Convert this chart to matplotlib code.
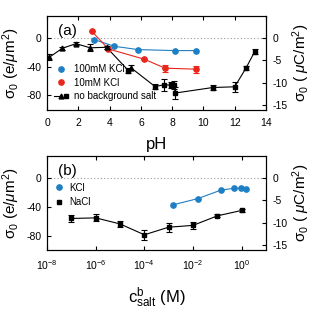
import numpy as np
import matplotlib
matplotlib.use("Agg")
import matplotlib.pyplot as plt
from matplotlib.lines import Line2D
from matplotlib.legend_handler import HandlerTuple

plt.rcParams['font.family'] = ['Liberation Sans', 'DejaVu Sans']
plt.rcParams['mathtext.fontset'] = 'custom'
plt.rcParams['mathtext.rm'] = 'Liberation Sans'
plt.rcParams['mathtext.it'] = 'Liberation Sans:italic'
plt.rcParams['mathtext.bf'] = 'Liberation Sans:bold'
plt.rcParams['axes.unicode_minus'] = False

# conversion e/um^2 -> uC/m^2
E_TO_UC = 0.1602

# panel (a) data, sigma in e/um^2
ph_tri = [0.15, 0.98, 1.85, 2.75, 3.8, 5.35]
sig_tri = [-27, -14.6, -8.3, -14, -13.3, -41.4]
err_tri = [4, 2, 2, 5, 2, 3]

ph_sq = [5.2, 6.9, 7.5, 7.9, 8.14, 8.18, 10.6, 12.0, 12.72, 13.28]
sig_sq = [-45.5, -67.6, -65.2, -65.7, -65.7, -76.7, -69, -68, -42.2, -19.3]
err_sq = [3, 3, 8, 4, 6, 8, 4, 7, 3, 3]

ph_100 = [3.03, 4.3, 5.82, 8.2, 9.5]
sig_100 = [-2.8, -11.9, -16.5, -17.9, -17.9]

ph_10 = [2.86, 3.92, 6.22, 7.54, 9.5]
sig_10 = [8.8, -15.6, -29.8, -42.2, -43.6]
err_10 = [0, 0, 0, 5, 5]

# panel (b) data
c_nacl = [1e-7, 1e-6, 1e-5, 1e-4, 1e-3, 1e-2, 1e-1, 1.0]
sig_nacl = [-56.4, -55.6, -64, -79, -68.5, -66, -52.8, -45.3]
err_nacl = [5, 5, 4, 7, 6, 5, 2, 2]

c_kcl = [1.5e-3, 1.55e-2, 0.145, 0.48, 0.96, 1.5]
sig_kcl = [-37.5, -29, -17, -14.7, -14.7, -15.3]

BLUE = '#1f7fc4'
RED = '#e8261c'

fig = plt.figure(figsize=(3.14, 3.14), dpi=100)
ax1 = fig.add_axes([0.150, 0.650, 0.697, 0.299])
ax2 = fig.add_axes([0.150, 0.204, 0.697, 0.299])

ylim = (-100, 30)
tick_fs = 7.5
lab_fs = 11
left_label = 'σ$_0$ (e/$\\mu$m$^2$)'
right_label = 'σ$_0$ ( $\\mu$C/m$^2$)'

# ---- panel (a)
ax1.axhline(0, color='#999999', lw=0.8, ls=(0, (1, 2)), zorder=0)
ph_all = ph_tri + ph_sq
sig_all = sig_tri + sig_sq
order = np.argsort(ph_all)
ax1.plot(np.array(ph_all)[order], np.array(sig_all)[order], color='black', lw=0.8, zorder=2)
ax1.errorbar(ph_tri, sig_tri, yerr=err_tri, fmt='^', color='black', ms=3.5,
             elinewidth=0.8, capsize=2, capthick=0.8, zorder=3)
ax1.errorbar(ph_sq, sig_sq, yerr=err_sq, fmt='s', color='black', ms=3.5,
             elinewidth=0.8, capsize=2, capthick=0.8, zorder=3)
ax1.plot(ph_100, sig_100, '-o', color=BLUE, ms=3.8, lw=0.8, zorder=2)
ax1.errorbar(ph_10, sig_10, yerr=err_10, fmt='-o', color=RED, ms=3.8, lw=0.8,
             elinewidth=0.8, capsize=2, capthick=0.8, zorder=2)

ax1.set_xlim(0, 14)
ax1.set_ylim(*ylim)
ax1.set_xticks([0, 2, 4, 6, 8, 10, 12, 14])
ax1.set_yticks([0, -40, -80])
ax1.set_xlabel('pH', fontsize=lab_fs + 1, labelpad=6)
ax1.set_ylabel(left_label, fontsize=lab_fs, labelpad=3)
ax1.text(0.05, 0.92, '(a)', transform=ax1.transAxes, fontsize=lab_fs, va='top', ha='left')

h_blue = Line2D([], [], marker='o', color=BLUE, ls='none', ms=3.8)
h_red = Line2D([], [], marker='o', color=RED, ls='none', ms=3.8)
h_line = Line2D([], [], color='black', lw=0.8)
h_tri = Line2D([], [], marker='^', color='black', ls='none', ms=3.5)
h_sq = Line2D([], [], marker='s', color='black', ls='none', ms=3.5)
ax1.legend([h_blue, h_red, (h_line, h_tri, h_sq)],
           ['100mM KCl', '10mM KCl', 'no background salt'],
           handler_map={tuple: HandlerTuple(ndivide=None, pad=0)},
           loc='lower left', bbox_to_anchor=(0.0, 0.02), frameon=False,
           fontsize=7, handlelength=1.5, handletextpad=0.6, labelspacing=0.35,
           borderaxespad=0.3)

# ---- panel (b)
ax2.axhline(0, color='#999999', lw=0.8, ls=(0, (1, 2)), zorder=0)
ax2.errorbar(c_nacl, sig_nacl, yerr=err_nacl, fmt='-s', color='black', ms=3.5, lw=0.8,
             elinewidth=0.8, capsize=2, capthick=0.8, zorder=3, label='NaCl')
ax2.plot(c_kcl, sig_kcl, '-o', color=BLUE, ms=3.8, lw=0.8, zorder=2, label='KCl')
ax2.set_xscale('log')
ax2.set_xlim(1e-8, 1e1)
ax2.set_ylim(*ylim)
ax2.set_xticks([1e-8, 1e-6, 1e-4, 1e-2, 1e0])
ax2.xaxis.set_minor_locator(matplotlib.ticker.NullLocator())
ax2.set_yticks([0, -40, -80])
ax2.set_xlabel(r'c$^{\rm b}_{\rm salt}$ (M)', fontsize=lab_fs + 1, labelpad=10)
ax2.set_ylabel(left_label, fontsize=lab_fs, labelpad=3)
ax2.text(0.05, 0.92, '(b)', transform=ax2.transAxes, fontsize=lab_fs, va='top', ha='left')
hb = Line2D([], [], marker='o', color=BLUE, ls='none', ms=3.8)
hn = Line2D([], [], marker='s', color='black', ls='none', ms=3.5)
ax2.legend([hb, hn], ['KCl', 'NaCl'], loc='upper left', bbox_to_anchor=(0.0, 0.79),
           frameon=False, fontsize=7, handlelength=1.0, handletextpad=0.6,
           labelspacing=0.45, borderaxespad=0.3)

for ax in (ax1, ax2):
    ax.tick_params(direction='in', top=True, right=False, labelsize=tick_fs,
                   length=3, width=0.8)
    ax.tick_params(axis='x', pad=6)
    ax.tick_params(axis='y', pad=4)
    for s in ax.spines.values():
        s.set_linewidth(0.8)
    # right axis in uC/m^2
    r = ax.twinx()
    r.set_ylim(ylim[0] * E_TO_UC, ylim[1] * E_TO_UC)
    r.set_yticks([0, -5, -10, -15])
    r.tick_params(direction='in', labelsize=tick_fs, length=3, width=0.8, pad=5)
    r.set_ylabel(right_label, fontsize=lab_fs, labelpad=2)

fig.savefig('out.png', dpi=100)
